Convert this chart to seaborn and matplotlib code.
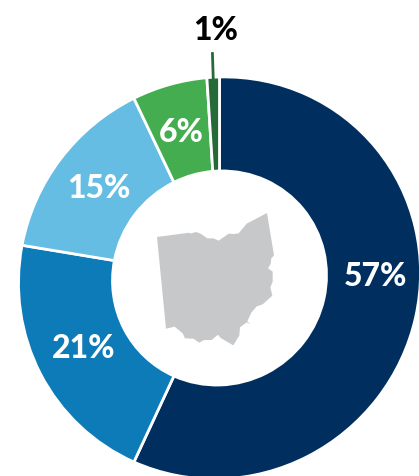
import matplotlib
matplotlib.use('Agg')
import matplotlib.pyplot as plt
from matplotlib.patches import Polygon
from matplotlib.transforms import Affine2D
import numpy as np
import seaborn as sns

# Share of total, clockwise from 12 o'clock
labels = ['57%', '21%', '15%', '6%', '1%']
shares = [57, 21, 15, 6, 1]
colors = ['#002f5f', '#0c7bb8', '#65bde3', '#43ad4f', '#266b37']

# where the percentages sit, in pixels from the top left
label_x = [375, 84, 99, 181, 216]
label_y = [277, 348, 189, 133, 30]
label_colors = ['white', 'white', 'white', 'white', 'black']

ohio = [(81, 141), (178, 128), (180, 131), (198, 126), (212, 131), (232, 145), (250, 145),
        (266, 152), (296, 131), (310, 132), (326, 130), (350, 101), (411, 69), (432, 196),
        (424, 205), (422, 222), (414, 235), (428, 245), (428, 275), (421, 292), (427, 317),
        (398, 343), (380, 349), (364, 368), (352, 394), (362, 403), (350, 397), (330, 412),
        (328, 436), (310, 466), (272, 444), (264, 434), (245, 450), (222, 450), (208, 458),
        (190, 446), (165, 445), (158, 430), (134, 410), (108, 416)]

W, H = 419, 476
cx, cy = 219.5, H - 278
r_out, r_in = 201, 107
tilt = 0.025  # the ring in the reference is very slightly sheared

sns.set_theme(style='white')
plt.rcParams['font.family'] = ['Lato', 'DejaVu Sans']

fig = plt.figure(figsize=(W / 100, H / 100), dpi=100)
ax = fig.add_axes([0, 0, 1, 1])
wedges, _ = ax.pie(shares, colors=colors, startangle=90, counterclock=False, center=(cx, cy), radius=r_out,
                   wedgeprops={'width': r_out - r_in, 'edgecolor': 'white', 'linewidth': 2})
ax.set_xlim(0, W)
ax.set_ylim(0, H)
ax.set_aspect('equal')
ax.axis('off')

shear = Affine2D(np.array([[1, 0, 0], [tilt, 1, -tilt * cx], [0, 0, 1]]))
for w in wedges:
    w.set_transform(shear + ax.transData)

# leader line for the 1% slice
ang = np.deg2rad((sum(shares) - shares[-1] / 2) / 100 * 360)
ax.plot([cx + 198 * np.sin(ang), cx + 226 * np.sin(ang)],
        [cy + 198 * np.cos(ang), cy + 226 * np.cos(ang)], color=colors[-1], lw=2, solid_capstyle='butt')

ax.add_patch(Polygon([(x / 3 + 130, H - (y / 3 + 190)) for x, y in ohio], closed=True,
                     facecolor='#c7c8ca', edgecolor='none'))

for t, x, y, c in zip(labels, label_x, label_y, label_colors):
    ax.text(x, H - y, t, color=c, ha='center', va='center', fontsize=23, fontweight='black')

fig.savefig('out.png', dpi=100)
